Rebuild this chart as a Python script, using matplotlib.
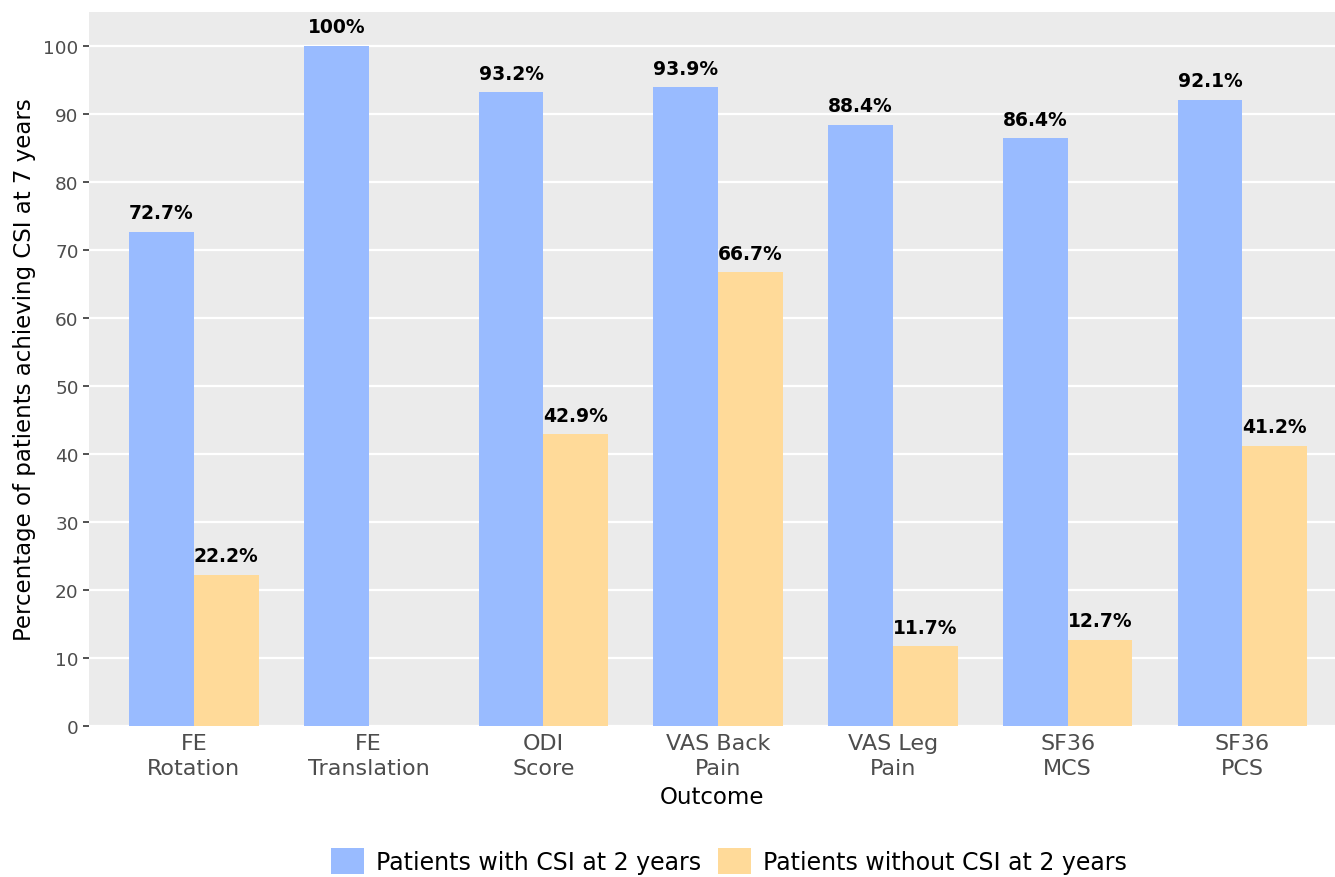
import numpy as np
import matplotlib
matplotlib.use('Agg')
import matplotlib.pyplot as plt

# data
outcomes = ['FE\nRotation', 'FE\nTranslation', 'ODI\nScore', 'VAS Back\nPain',
            'VAS Leg\nPain', 'SF36\nMCS', 'SF36\nPCS']
with_csi = [72.7, 100, 93.2, 93.9, 88.4, 86.4, 92.1]
without_csi = [22.2, np.nan, 42.9, 66.7, 11.7, 12.7, 41.2]
with_labels = ['72.7%', '100%', '93.2%', '93.9%', '88.4%', '86.4%', '92.1%']
without_labels = ['22.2%', '', '42.9%', '66.7%', '11.7%', '12.7%', '41.2%']

blue = '#99BBFF'
yellow = '#FFDA99'

plt.rcParams['font.family'] = 'DejaVu Sans'

fig = plt.figure(figsize=(13.35, 8.78), dpi=100)
ax = fig.add_axes([0.0667, 0.172, 0.9333, 0.8132])
ax.set_facecolor('#EBEBEB')

x = np.arange(len(outcomes))
w = 0.37
b1 = ax.bar(x - w/2, with_csi, w, color=blue, label='Patients with CSI at 2 years', zorder=3)
b2 = ax.bar(x + w/2, without_csi, w, color=yellow, label='Patients without CSI at 2 years', zorder=3)

for rect, lab in zip(b1, with_labels):
    ax.annotate(lab, (rect.get_x() + rect.get_width()/2, rect.get_height()),
                xytext=(0, 7), textcoords='offset points', ha='center', va='bottom',
                fontsize=13.5, fontweight='bold', color='black')
for rect, lab in zip(b2, without_labels):
    if lab == '':
        continue
    ax.annotate(lab, (rect.get_x() + rect.get_width()/2, rect.get_height()),
                xytext=(0, 7), textcoords='offset points', ha='center', va='bottom',
                fontsize=13.5, fontweight='bold', color='black')

ax.set_xlim(-0.6, 6.53)
ax.set_ylim(0, 105)
ax.set_yticks(np.arange(0, 101, 10))
ax.set_xticks(x)
ax.set_xticklabels(outcomes, linespacing=1.3)
ax.grid(axis='y', color='white', linewidth=1.6, zorder=0)
ax.grid(axis='x', visible=False)
for s in ax.spines.values():
    s.set_visible(False)
ax.tick_params(axis='both', colors='#333333', labelcolor='#4D4D4D',
               length=4, width=1.2)
ax.tick_params(axis='y', labelsize=13.3)
ax.tick_params(axis='x', length=0, pad=5, labelsize=16)

ax.set_xlabel('Outcome', fontsize=16.5, labelpad=5)
ax.set_ylabel('Percentage of patients achieving CSI at 7 years', fontsize=16.5, labelpad=5)

fig.legend(handles=[b1, b2], loc='center', bbox_to_anchor=(0.546, 0.018), ncol=2,
           frameon=False, fontsize=17, handlelength=1.4, handleheight=1.3,
           handletextpad=0.5, columnspacing=0.7)

plt.savefig('out.png', dpi=100)
